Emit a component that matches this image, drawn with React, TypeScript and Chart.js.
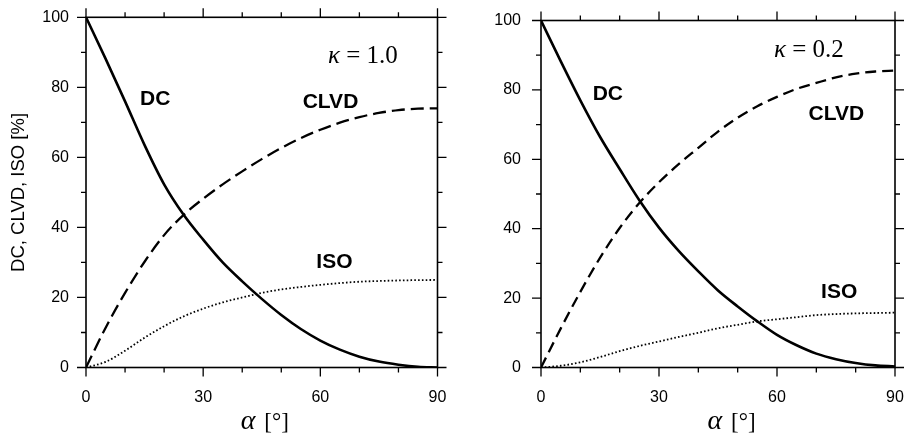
import React, { useEffect, useRef } from 'react';
import { Chart, registerables } from 'chart.js';

Chart.register(...registerables);

// ---- data ----
const alphaDeg = [0, 5, 10, 15, 20, 25, 30, 35, 40, 45, 50, 55, 60, 65, 70, 75, 80, 85, 90];

// kappa = 1.0 (left panel)
const dcKappa10 = [100, 88.2, 76, 63.5, 52.3, 43.6, 36.5, 30, 24.6, 19.6, 15, 11, 7.7, 5.1, 3.1, 1.7, 0.8, 0.2, 0];
const clvdKappa10 = [0, 11.3, 21.3, 30.2, 37.8, 43.6, 48.2, 52.3, 56, 59.5, 62.7, 65.5, 67.9, 69.9, 71.5, 72.7, 73.5, 73.9, 74];
const isoKappa10 = [0, 1.6, 4.8, 8.5, 11.8, 14.6, 16.8, 18.6, 20, 21.3, 22.3, 23, 23.6, 24.1, 24.5, 24.7, 24.85, 24.95, 25];

// kappa = 0.2 (right panel)
const dcKappa02 = [100, 88.3, 77, 66.5, 57.2, 48.2, 40.3, 33.6, 27.7, 22.2, 17.6, 13.3, 9.4, 6.4, 4, 2.4, 1.3, 0.6, 0.3];
const clvdKappa02 = [0, 11.2, 21.8, 31.6, 40.2, 47.4, 53.4, 58.6, 63.3, 68, 72, 75.3, 78, 80.3, 82, 83.6, 84.7, 85.3, 85.6];
const isoKappa02 = [0, 0.5, 1.5, 3, 4.7, 6.2, 7.5, 8.8, 10, 11.3, 12.3, 13.3, 13.9, 14.5, 15.1, 15.4, 15.6, 15.7, 15.8];

const xTickLabels = ['0', '30', '60', '90'];
const yTickLabels = ['0', '20', '40', '60', '80', '100'];
const seriesNames = ['DC', 'CLVD', 'ISO'];
const yAxisTitle = 'DC, CLVD, ISO [%]';
const kappaValues = ['1.0', '0.2'];

// ---- layout / style per panel ----
const SANS = '"Liberation Sans", Arial, Helvetica, sans-serif';
const SERIF = '"Liberation Serif", "Times New Roman", serif';

type PanelCfg = {
  canvasLeft: number;
  kappa: string;
  dc: number[];
  clvd: number[];
  iso: number[];
  pad: { left: number; right: number; top: number; bottom: number };
  yWidth: number;
  yTickPad: number;
  showYTitle: boolean;
  dash: number[];
  labelPos: { [k: string]: [number, number] };
  kappaPos: [number, number];
  titleOffset: number;
};

const panels: PanelCfg[] = [
  {
    canvasLeft: 0,
    kappa: kappaValues[0],
    dc: dcKappa10,
    clvd: clvdKappa10,
    iso: isoKappa10,
    pad: { left: 0, right: 14.5, top: 17.3, bottom: 26.5 },
    yWidth: 86,
    yTickPad: 17,
    showYTitle: true,
    dash: [13, 6],
    labelPos: { DC: [17.7, 75.0], CLVD: [62.6, 74.0], ISO: [63.6, 28.3] },
    kappaPos: [70.9, 86.9],
    titleOffset: 3,
  },
  {
    canvasLeft: 452,
    kappa: kappaValues[1],
    dc: dcKappa02,
    clvd: clvdKappa02,
    iso: isoKappa02,
    pad: { left: 0, right: 9, top: 20.5, bottom: 26.5 },
    yWidth: 89,
    yTickPad: 20,
    showYTitle: false,
    dash: [11, 6],
    labelPos: { DC: [17.0, 77.1], CLVD: [75.1, 71.4], ISO: [75.8, 19.9] },
    kappaPos: [68.1, 89.4],
    titleOffset: 13.5,
  },
];

function makeDecorPlugin(p: PanelCfg) {
  return {
    id: 'decor',
    afterDraw(chart: any) {
      const ctx = chart.ctx as CanvasRenderingContext2D;
      const { left, right, top, bottom } = chart.chartArea;
      const xs = chart.scales.x;
      const ys = chart.scales.y;
      ctx.save();
      ctx.strokeStyle = '#000';
      ctx.fillStyle = '#000';
      // frame
      ctx.lineWidth = 1.6;
      ctx.strokeRect(left, top, right - left, bottom - top);
      // ticks
      ctx.lineWidth = 1.3;
      ctx.beginPath();
      for (let v = 0; v <= 90; v += 10) {
        const px = xs.getPixelForValue(v);
        const len = v % 30 === 0 ? 9 : 5;
        ctx.moveTo(px, bottom);
        ctx.lineTo(px, bottom + len);
        ctx.moveTo(px, top);
        ctx.lineTo(px, top - len);
      }
      for (let v = 0; v <= 100; v += 10) {
        const py = ys.getPixelForValue(v);
        const len = v % 20 === 0 ? 9 : 5;
        ctx.moveTo(left, py);
        ctx.lineTo(left - len, py);
        ctx.moveTo(right, py);
        ctx.lineTo(right + len, py);
      }
      ctx.stroke();

      // series labels
      ctx.font = 'bold 21px ' + SANS;
      ctx.textAlign = 'center';
      ctx.textBaseline = 'alphabetic';
      seriesNames.forEach((name) => {
        const [a, v] = p.labelPos[name];
        ctx.fillText(name, xs.getPixelForValue(a), ys.getPixelForValue(v));
      });

      // kappa label
      const kx = xs.getPixelForValue(p.kappaPos[0]);
      const ky = ys.getPixelForValue(p.kappaPos[1]);
      ctx.textAlign = 'left';
      ctx.font = 'italic 25px ' + SERIF;
      const kW = ctx.measureText('\u03BA').width;
      ctx.font = '25px ' + SERIF;
      const rest = ' = ' + p.kappa;
      const rW = ctx.measureText(rest).width;
      const kStart = kx - (kW + rW) / 2;
      ctx.font = 'italic 25px ' + SERIF;
      ctx.fillText('\u03BA', kStart, ky);
      ctx.font = '25px ' + SERIF;
      ctx.fillText(rest, kStart + kW, ky);

      // x axis title: alpha [deg]
      const cx = (left + right) / 2 + p.titleOffset;
      const base = 429;
      ctx.font = 'italic 28px ' + SERIF;
      const aW = ctx.measureText('\u03B1').width;
      ctx.font = '23px ' + SERIF;
      const bW = ctx.measureText('[\u00B0]').width;
      const gap = 9;
      const start = cx - (aW + gap + bW) / 2;
      ctx.font = 'italic 28px ' + SERIF;
      ctx.fillText('\u03B1', start, base);
      ctx.font = '23px ' + SERIF;
      ctx.fillText('[\u00B0]', start + aW + gap, base);
      ctx.restore();
    },
  };
}

function buildConfig(p: PanelCfg): any {
  const pts = (arr: number[]) => alphaDeg.map((a, i) => ({ x: a, y: arr[i] }));
  return {
    type: 'line',
    data: {
      datasets: [
        {
          label: seriesNames[0],
          data: pts(p.dc),
          borderColor: '#000',
          borderWidth: 2.6,
          pointRadius: 0,
          fill: false,
          cubicInterpolationMode: 'monotone',
        },
        {
          label: seriesNames[1],
          data: pts(p.clvd),
          borderColor: '#000',
          borderWidth: 2.3,
          borderDash: p.dash,
          pointRadius: 0,
          fill: false,
          cubicInterpolationMode: 'monotone',
        },
        {
          label: seriesNames[2],
          data: pts(p.iso),
          borderColor: '#000',
          borderWidth: 1.8,
          borderDash: [1.6, 2.2],
          pointRadius: 0,
          fill: false,
          cubicInterpolationMode: 'monotone',
        },
      ],
    },
    options: {
      responsive: false,
      maintainAspectRatio: false,
      animation: false,
      devicePixelRatio: 1,
      layout: { padding: p.pad },
      plugins: { legend: { display: false }, tooltip: { enabled: false } },
      scales: {
        x: {
          type: 'linear',
          min: 0,
          max: 90,
          grid: { display: false, drawTicks: false },
          border: { display: false },
          ticks: {
            stepSize: 10,
            autoSkip: false,
            maxRotation: 0,
            padding: 20,
            color: '#000',
            font: { family: SANS, size: 16 },
            callback: (v: number) => (v % 30 === 0 ? xTickLabels[v / 30] : ''),
          },
          afterFit: (s: any) => {
            s.height = 40;
            s.paddingLeft = 0;
            s.paddingRight = 0;
          },
        },
        y: {
          type: 'linear',
          min: 0,
          max: 100,
          grid: { display: false, drawTicks: false },
          border: { display: false },
          ticks: {
            stepSize: 10,
            autoSkip: false,
            padding: p.yTickPad,
            color: '#000',
            font: { family: SANS, size: 16 },
            callback: (v: number) => (v % 20 === 0 ? yTickLabels[v / 20] : ''),
          },
          title: {
            display: p.showYTitle,
            text: yAxisTitle,
            color: '#000',
            font: { family: SANS, size: 18.5 },
            padding: { top: 8, bottom: 4 },
          },
          afterFit: (s: any) => {
            s.width = p.yWidth;
            s.paddingTop = 0;
            s.paddingBottom = 0;
          },
        },
      },
    },
    plugins: [makeDecorPlugin(p)],
  };
}

function Panel({ p }: { p: PanelCfg }) {
  const ref = useRef<HTMLCanvasElement | null>(null);
  useEffect(() => {
    if (!ref.current) return;
    const chart = new Chart(ref.current, buildConfig(p));
    return () => chart.destroy();
  }, [p]);
  return (
    <canvas
      ref={ref}
      width={452}
      height={434}
      style={{ position: 'absolute', left: p.canvasLeft, top: 0, width: 452, height: 434 }}
    />
  );
}

export default function App() {
  return (
    <div style={{ position: 'absolute', left: 0, top: 0, width: 904, height: 434, background: '#fff', overflow: 'hidden' }}>
      {panels.map((p, i) => (
        <Panel key={i} p={p} />
      ))}
    </div>
  );
}
